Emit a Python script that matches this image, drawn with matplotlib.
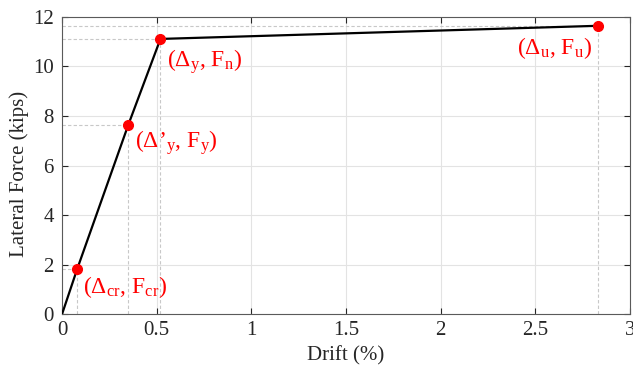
import matplotlib
matplotlib.use("Agg")
import matplotlib.pyplot as plt

plt.rcParams['font.family'] = ['Liberation Serif', 'DejaVu Serif']
plt.rcParams['mathtext.fontset'] = 'custom'
plt.rcParams['mathtext.rm'] = 'Liberation Serif'
plt.rcParams['mathtext.it'] = 'Liberation Serif'

drift = [0.0, 0.08, 0.35, 0.52, 2.83]
force = [0.0, 1.82, 7.64, 11.11, 11.64]
labels = [r'($\Delta_{\mathrm{cr}}$, F$_{\mathrm{cr}}$)',
          r'($\Delta$’$_{\mathrm{y}}$, F$_{\mathrm{y}}$)',
          r'($\Delta_{\mathrm{y}}$, F$_{\mathrm{n}}$)',
          r'($\Delta_{\mathrm{u}}$, F$_{\mathrm{u}}$)']
offsets = [(4, -13), (5, -13), (5, -16), (-4, -16)]
aligns = ['left', 'left', 'left', 'right']
xticks = [0, 0.5, 1, 1.5, 2, 2.5, 3]
xticklabels = ['0', '0.5', '1', '1.5', '2', '2.5', '3']
yticks = [0, 2, 4, 6, 8, 10, 12]

fig = plt.figure(figsize=(6.33, 3.67), dpi=100)
ax = fig.add_axes([0.098, 0.144, 0.897, 0.81])

ax.set_xlim(0, 3)
ax.set_ylim(0, 12)
ax.set_xticks(xticks)
ax.set_xticklabels(xticklabels)
ax.set_yticks(yticks)
ax.grid(True, color='#e3e3e3', linewidth=0.8)
ax.set_axisbelow(True)

for x, y in zip(drift[1:], force[1:]):
    ax.plot([x, x], [0, y], ls=(0, (3, 2)), color='#c8c8c8', lw=0.8, zorder=1)
    ax.plot([0, x], [y, y], ls=(0, (3, 2)), color='#c8c8c8', lw=0.8, zorder=1)

ax.plot(drift, force, color='black', lw=1.6, zorder=3)
ax.plot(drift[1:], force[1:], 'o', color='#ff0000', ms=7, zorder=4)

for x, y, lab, off, ha in zip(drift[1:], force[1:], labels, offsets, aligns):
    ax.annotate(lab, (x, y), xytext=off, textcoords='offset points',
                color='#ff0000', fontsize=17, ha=ha, va='center')

ax.tick_params(direction='in', top=True, right=True, labelsize=15,
               colors='#262626', length=4, width=0.8, pad=5)
ax.tick_params(axis='y', pad=6)
for s in ax.spines.values():
    s.set_color('#5a5a5a')
    s.set_linewidth(0.8)

ax.set_xlabel('Drift (%)', fontsize=15, color='#262626', labelpad=4)
ax.set_ylabel('Lateral Force (kips)', fontsize=15, color='#262626')
ax.yaxis.set_label_coords(-0.058, 0.47)

fig.savefig('out.png', dpi=100)
